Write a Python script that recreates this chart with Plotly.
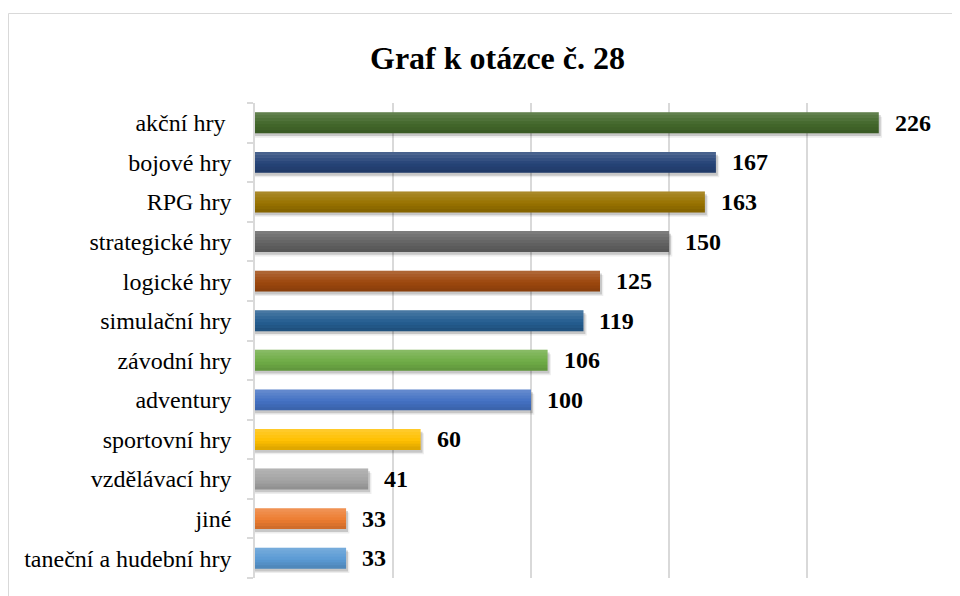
import plotly.graph_objects as go

categories = ["taneční a hudební hry", "jiné", "vzdělávací hry", "sportovní hry", "adventury",
              "závodní hry", "simulační hry", "logické hry", "strategické hry", "RPG hry",
              "bojové hry", "akční hry\u00a0"]
values = [33, 33, 41, 60, 100, 106, 119, 125, 150, 163, 167, 226]
colors = ["#5B9BD5", "#ED7D31", "#A5A5A5", "#FFC000", "#4472C4", "#70AD47",
          "#255E91", "#9E480E", "#636363", "#997300", "#264478", "#43682B"]
title_text = "Graf k otázce č. 28"

# page body has an 8px default margin; figure sized to fit the window
W, H = 952, 588
L, R, T, B = 247, 15, 95, 18
pw, ph = W - L - R, H - T - B

BW = 0.53
fig = go.Figure()

# soft drop shadows
for dx, doff, a in [(1.2, 0.11, 0.07), (0.7, 0.07, 0.16)]:
    fig.add_trace(go.Bar(
        y=categories, x=[v + dx for v in values], orientation="h",
        marker=dict(color=f"rgba(0,0,0,{a})", line=dict(width=0)),
        width=BW, offset=-BW / 2 - doff, hoverinfo="skip",
    ))

# main bars
fig.add_trace(go.Bar(
    y=categories, x=values, orientation="h",
    marker=dict(color=colors, line=dict(width=0)),
    width=BW, offset=-BW / 2, hoverinfo="skip",
))

# subtle vertical gradient (darker at bottom, lighter at top)
n = 7
sw = BW / n
for k in range(n):
    t = -0.12 + k * (0.28 / (n - 1))
    col = f"rgba(255,255,255,{t:.3f})" if t > 0 else f"rgba(0,0,0,{-t:.3f})"
    if abs(t) < 0.01:
        continue
    fig.add_trace(go.Bar(
        y=categories, x=values, orientation="h",
        marker=dict(color=col, line=dict(width=0)),
        width=sw + 0.002, offset=-BW / 2 + k * sw, hoverinfo="skip",
    ))

for c, v in zip(categories, values):
    fig.add_annotation(x=v, y=c, text=f"<b>{v}</b>", showarrow=False,
                       xanchor="left", xshift=14,
                       font=dict(family="Liberation Serif", size=24, color="#000000"))

fig.add_annotation(xref="paper", yref="paper", x=(489 - L) / pw, y=(H - B - 50) / ph,
                   text=f"<b>{title_text}</b>", showarrow=False, xanchor="center", yanchor="middle",
                   font=dict(family="Liberation Serif", size=32, color="#000000"))

fig.add_shape(type="rect", xref="paper", yref="paper",
              x0=(0.5 - L) / pw, x1=(1000 - L) / pw,
              y0=(H - B - 620) / ph, y1=(H - B - 5.5) / ph,
              line=dict(color="#d9d9d9", width=1), layer="below")

fig.update_layout(
    width=W, height=H,
    margin=dict(l=L, r=R, t=T, b=B, pad=0),
    paper_bgcolor="white", plot_bgcolor="white",
    showlegend=False, barmode="overlay",
    xaxis=dict(range=[0, 250], dtick=50, showgrid=True, gridcolor="#d9d9d9", gridwidth=1.5,
               showticklabels=False, zeroline=False, showline=False, fixedrange=True),
    yaxis=dict(type="category", showline=True, linecolor="#d9d9d9", linewidth=1.5,
               ticks="outside", tickson="boundaries", ticklen=6, tickcolor="#d9d9d9",
               tickwidth=1.5, ticklabelstandoff=17,
               tickfont=dict(family="Liberation Serif", size=24, color="#000000"),
               showgrid=False, fixedrange=True),
)

fig.write_html("out.html")
